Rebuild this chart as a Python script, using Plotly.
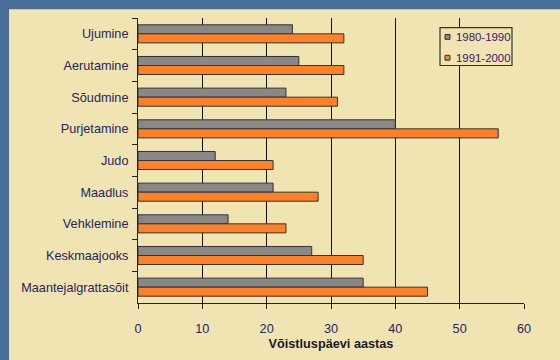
import plotly.graph_objects as go

# Sports and competition days per year in two decades
sports = ["Ujumine", "Aerutamine", "Sõudmine", "Purjetamine", "Judo",
          "Maadlus", "Vehklemine", "Keskmaajooks", "Maantejalgrattasõit"]
days_1980_1990 = [24, 25, 23, 40, 12, 21, 14, 27, 35]
days_1991_2000 = [32, 32, 31, 56, 21, 28, 23, 35, 45]
x_ticks = [0, 10, 20, 30, 40, 50, 60]
series_names = ["1980-1990", "1991-2000"]
series_colors = ["#888888", "#ff8127"]

BEIGE = "#f0e4b2"
BLUE = "#4b6f98"
TEXT = "#24245e"
EDGE = "#333333"

fig = go.Figure()
for name, values, color in zip(series_names, [days_1980_1990, days_1991_2000], series_colors):
    fig.add_trace(go.Bar(
        y=sports, x=values, orientation="h", name=name, showlegend=False,
        marker=dict(color=color, line=dict(color=EDGE, width=1)),
    ))

# Beige panel sitting on the blue page background
fig.add_shape(type="rect", xref="paper", yref="paper",
              x0=-0.334, x1=1.2, y0=-0.2, y1=1.0306,
              fillcolor=BEIGE, line=dict(width=0), layer="below")

# Compact boxed legend in the upper right
fig.add_shape(type="rect", xref="paper", yref="paper",
              x0=0.7824, x1=0.9689, y0=0.8333, y1=0.966,
              fillcolor=BEIGE, line=dict(color=EDGE, width=1.2))
for name, color, yc in zip(series_names, series_colors, [0.9337, 0.8605]):
    fig.add_shape(type="rect", xref="paper", yref="paper",
                  x0=0.7953, x1=0.8083, y0=yc - 0.0085, y1=yc + 0.0085,
                  fillcolor=color, line=dict(color=EDGE, width=1))
    fig.add_annotation(xref="paper", yref="paper", x=0.8190, y=yc,
                       xanchor="left", yanchor="middle", text=name,
                       showarrow=False,
                       font=dict(size=11.4, color="#3d1270"))

fig.update_layout(
    width=560, height=360,
    margin=dict(l=138, r=36, t=18, b=48),
    paper_bgcolor=BLUE,
    plot_bgcolor="rgba(0,0,0,0)",
    barmode="group", bargap=0.43, bargroupgap=0,
    font=dict(family="Liberation Sans, Arial, sans-serif", size=12.7, color=TEXT),
    xaxis=dict(
        range=[0, 60], tickvals=x_ticks, ticks="outside", ticklen=5,
        ticklabelstandoff=9,
        tickcolor="#222222", showgrid=True, gridcolor="#111111", gridwidth=1,
        showline=True, linecolor="#222222", linewidth=1, zeroline=False,
        title=dict(text="Võistluspäevi aastas", standoff=3,
                   font=dict(size=12.7, color="#1a1a2a", weight="bold")),
    ),
    yaxis=dict(
        categoryorder="array", categoryarray=sports,
        range=[8.5, -0.5], tickson="boundaries", ticks="outside", ticklen=5,
        ticklabelstandoff=6,
        tickcolor="#222222", showgrid=False,
        showline=True, linecolor="#222222", linewidth=1,
    ),
)

fig.write_html("out.html")
